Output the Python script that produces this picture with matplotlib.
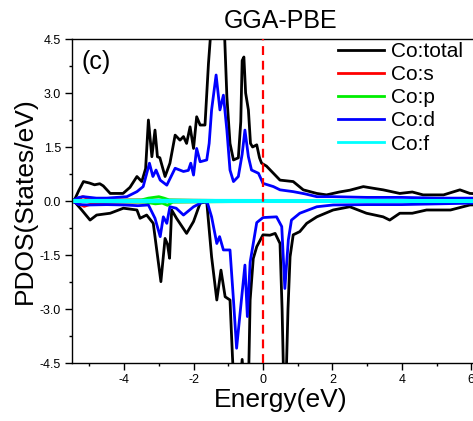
import matplotlib
matplotlib.use("Agg")
import matplotlib.pyplot as plt
from matplotlib.ticker import MultipleLocator, FormatStrFormatter

plt.rcParams['font.family'] = ['Liberation Sans', 'DejaVu Sans']
plt.rcParams['axes.unicode_minus'] = False

# ---- data ----
# spin-up total
up_tot_x = [-5.5, -5.42, -5.3, -5.17, -5.0, -4.85, -4.7, -4.6, -4.4, -4.03, -3.83, -3.63, -3.49, -3.38,
            -3.30, -3.2, -3.11, -3.04, -2.97, -2.82, -2.68, -2.53, -2.39, -2.29, -2.2, -2.1, -2.0,
            -1.91, -1.81, -1.67, -1.57, -1.48, -1.42, -1.35, -1.25, -1.16, -1.04, -0.95, -0.85,
            -0.71, -0.64, -0.6, -0.55, -0.5, -0.42, -0.36, -0.3, -0.18, -0.1, -0.04, 0.1, 0.3, 0.49,
            0.87, 1.16, 1.55, 1.83, 2.2, 2.5, 2.89, 3.2, 3.46, 3.94, 4.3, 4.61, 5.2, 5.67, 5.96, 6.2, 6.5]
up_tot_y = [0.0, 0.05, 0.3, 0.54, 0.5, 0.45, 0.48, 0.42, 0.21, 0.21, 0.38, 0.68, 0.54, 0.9,
            2.25, 1.23, 1.97, 1.23, 1.2, 0.68, 1.05, 1.83, 1.69, 1.79, 1.6, 2.06, 1.46,
            2.34, 2.11, 2.11, 3.82, 5.0, 6.2, 7.0, 5.5, 6.0, 2.9, 1.6, 1.14,
            1.2, 2.2, 3.9, 4.0, 3.0, 2.53, 1.6, 1.5, 1.56, 1.2, 1.05, 0.97, 0.77, 0.58,
            0.54, 0.31, 0.21, 0.17, 0.25, 0.3, 0.4, 0.35, 0.31, 0.21, 0.25, 0.17, 0.17, 0.31, 0.21, 0.2, 0.2]

# spin-up d
up_d_x = [-5.5, -5.3, -5.17, -4.8, -4.5, -3.92, -3.63, -3.45, -3.27, -3.17, -3.08, -2.96, -2.77,
          -2.53, -2.29, -2.15, -2.08, -2.0, -1.91, -1.81, -1.62, -1.55, -1.48, -1.35, -1.24, -1.14,
          -1.04, -0.95, -0.85, -0.71, -0.6, -0.52, -0.42, -0.33, -0.13, 0.0, 0.3, 0.49, 0.87, 1.2,
          1.55, 2.0, 3.0, 4.0, 5.0, 6.0, 6.5]
up_d_y = [0.0, 0.1, 0.12, 0.08, 0.08, 0.12, 0.26, 0.4, 1.05, 0.68, 0.86, 0.58, 0.44,
          0.91, 0.82, 0.85, 1.05, 0.72, 1.46, 1.09, 1.14, 1.6, 2.53, 3.5, 2.53, 2.94,
          1.97, 0.86, 0.54, 0.68, 1.3, 1.97, 1.23, 0.86, 0.77, 0.49, 0.4, 0.31, 0.26, 0.2,
          0.12, 0.12, 0.1, 0.1, 0.08, 0.08, 0.08]

# spin-down total
dn_tot_x = [-5.5, -5.4, -5.22, -4.98, -4.79, -4.4, -4.02, -3.63, -3.54, -3.35, -3.16, -3.06, -2.94,
            -2.82, -2.75, -2.69, -2.63, -2.49, -2.2, -2.0, -1.81, -1.62, -1.48, -1.33, -1.21, -1.09,
            -0.95, -0.88, -0.82, -0.72, -0.64, -0.6, -0.55, -0.47, -0.41, -0.37, -0.28, -0.18, 0.0,
            0.2, 0.35, 0.49, 0.55, 0.6, 0.66, 0.72, 0.78, 0.87, 1.06, 1.26, 1.55, 2.02, 2.5, 2.98,
            3.46, 3.65, 3.94, 4.3, 4.71, 5.4, 5.96, 6.5]
dn_tot_y = [0.0, -0.05, -0.25, -0.53, -0.39, -0.34, -0.2, -0.25, -0.48, -0.39, -0.62, -1.36, -2.24,
            -1.04, -1.2, -1.59, -0.25, -0.48, -0.9, -0.57, -0.06, -0.02, -1.55, -2.75, -1.92, -2.66,
            -2.75, -4.3, -5.5, -6.5, -4.9, -4.4, -5.0, -6.0, -4.7, -2.75, -1.6, -1.27, -0.94,
            -0.95, -0.9, -1.18, -3.0, -5.2, -5.2, -3.0, -1.55, -0.94, -0.85, -0.62, -0.44, -0.25, -0.16, -0.34,
            -0.44, -0.53, -0.34, -0.34, -0.25, -0.25, -0.11, -0.1]

# spin-down d
dn_d_x = [-5.5, -5.3, -5.0, -4.5, -4.0, -3.6, -3.3, -3.11, -2.96, -2.87, -2.77, -2.68, -2.5, -2.29,
          -2.0, -1.72, -1.6, -1.48, -1.33, -1.25, -1.14, -0.95, -0.85, -0.76, -0.66, -0.52, -0.45,
          -0.37, -0.18, 0.0, 0.39, 0.54, 0.63, 0.73, 0.82, 1.06, 1.55, 2.02, 3.0, 4.0, 5.0, 6.0, 6.5]
dn_d_y = [0.0, -0.1, -0.11, -0.1, -0.11, -0.13, -0.11, -0.48, -0.99, -0.44, -0.62, -0.16, -0.2, -0.39,
          -0.16, -0.02, -0.05, -0.44, -1.18, -0.99, -1.36, -1.36, -2.75, -4.09, -3.12, -1.78, -3.21,
          -1.7, -0.6, -0.46, -0.44, -0.71, -2.43, -1.08, -0.53, -0.34, -0.16, -0.11, -0.1, -0.1, -0.08, -0.06, -0.06]

# s, p, f (small)
up_s_x = [-5.5, -5.3, -5.2, -5.05, -4.8, -4.0, -2.0, 0.0, 6.5]
up_s_y = [0.0, 0.05, 0.12, 0.08, 0.05, 0.03, 0.02, 0.01, 0.01]
dn_s_x = [-5.5, -5.3, -5.15, -5.0, -4.8, -4.0, 0.0, 6.5]
dn_s_y = [0.0, -0.08, -0.15, -0.1, -0.05, -0.03, -0.01, -0.01]
up_p_x = [-5.5, -4.0, -3.5, -3.3, -3.15, -3.0, -2.85, -2.7, -2.0, 0.0, 6.5]
up_p_y = [0.0, 0.02, 0.03, 0.08, 0.1, 0.12, 0.08, 0.03, 0.02, 0.01, 0.01]
dn_p_x = [-5.5, -3.4, -3.1, -2.9, -2.75, -2.6, 0.0, 6.5]
dn_p_y = [0.0, -0.03, -0.08, -0.06, -0.12, -0.03, -0.01, -0.01]
up_f_x = [-5.5, -3.0, 0.0, 3.0, 6.5]
up_f_y = [0.01, 0.015, 0.01, 0.01, 0.01]
dn_f_x = [-5.5, -3.0, 0.0, 3.0, 6.5]
dn_f_y = [-0.01, -0.015, -0.01, -0.01, -0.01]

labels = ["Co:total", "Co:s", "Co:p", "Co:d", "Co:f"]
colors = ["black", "#ff0000", "#00ee00", "#0000ff", "#00ffff"]

W, H = 473, 421
fig = plt.figure(figsize=(W / 100, H / 100), dpi=100)
left_px, right_px, top_px, bot_px = 72, 488.7, 39, 363
ax = fig.add_axes([left_px / W, 1 - bot_px / H, (right_px - left_px) / W, (bot_px - top_px) / H])

lw = 2.0
ax.plot(up_tot_x, up_tot_y, color=colors[0], lw=lw, label=labels[0])
ax.plot(dn_tot_x, dn_tot_y, color=colors[0], lw=lw)
ax.plot(up_s_x, up_s_y, color=colors[1], lw=lw, label=labels[1])
ax.plot(dn_s_x, dn_s_y, color=colors[1], lw=lw)
ax.plot(up_p_x, up_p_y, color=colors[2], lw=lw, label=labels[2])
ax.plot(dn_p_x, dn_p_y, color=colors[2], lw=lw)
ax.plot(up_d_x, up_d_y, color=colors[3], lw=lw, label=labels[3])
ax.plot(dn_d_x, dn_d_y, color=colors[3], lw=lw)
ax.plot(up_f_x, up_f_y, color=colors[4], lw=2.4, label=labels[4])
ax.plot(dn_f_x, dn_f_y, color=colors[4], lw=2.4)

ax.axvline(0, color="#ff0000", lw=1.6, ls=(0, (4.0, 2.6)), zorder=5)

ax.set_xlim(-5.5, 6.5)
ax.set_ylim(-4.5, 4.5)
ax.xaxis.set_major_locator(MultipleLocator(2))
ax.xaxis.set_minor_locator(MultipleLocator(1))
ax.yaxis.set_major_locator(MultipleLocator(1.5))
ax.yaxis.set_minor_locator(MultipleLocator(0.75))
ax.yaxis.set_major_formatter(FormatStrFormatter('%.1f'))
ax.tick_params(which='major', direction='out', length=5, width=1, labelsize=9, pad=3)
ax.tick_params(which='minor', direction='out', length=2.5, width=1)
ax.tick_params(top=False, right=False, which='both')
for s in ax.spines.values():
    s.set_linewidth(1.0)

ax.set_xlabel("Energy(eV)", fontsize=19, labelpad=1)
ax.set_ylabel("PDOS(States/eV)", fontsize=19, labelpad=2)
ax.set_title("GGA-PBE", fontsize=18, pad=8)

ax.text(81.7 / W, 1 - 62.5 / H, "(c)", transform=fig.transFigure, fontsize=18, ha='left', va='center')

leg = ax.legend(loc='upper left', bbox_to_anchor=(338 / W, 1 - 42 / H), bbox_transform=fig.transFigure,
                frameon=False, fontsize=15, handlelength=2.2, handletextpad=0.35, labelspacing=0.2,
                borderpad=0, borderaxespad=0)
for l in leg.get_lines():
    l.set_linewidth(2.0)

fig.savefig("out.png", dpi=100)
